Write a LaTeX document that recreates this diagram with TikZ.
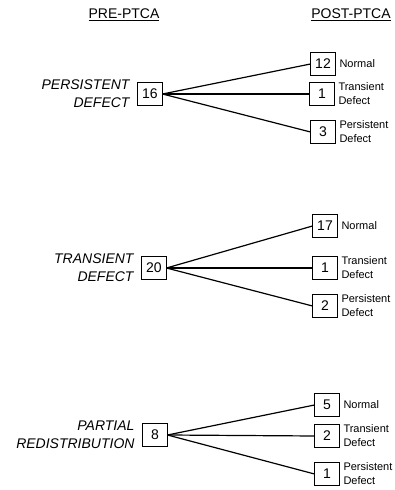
\documentclass[tikz,border=0pt]{standalone}
\usepackage{fontspec}
\setmainfont{Liberation Sans}
\usetikzlibrary{positioning}
\tikzset{x=1pt, y=1pt,
every node/.style={inner sep=0pt, outer sep=0pt},
head/.style={ % column titles
font=\fontsize{14}{17}\selectfont},
group/.style={ % italic names on the left
anchor=east, align=right,
font=\fontsize{14}{18}\selectfont\itshape},
count/.style={ % boxed numbers
draw, line width=1pt,
minimum width=25pt, minimum height=23pt,
font=\fontsize{14}{17}\selectfont},
result/.style={ % small text beside the right boxes
right=4pt of #1, align=left,
font=\fontsize{11}{14}\selectfont},
branch/.style={line width=1.2pt}}

\begin{document}
\begin{tikzpicture}
\useasboundingbox (0,0) rectangle (394,490);
% column titles
\node[head] (pre) at (124,476) {PRE-PTCA};
\node[head] (post) at (351,476) {POST-PTCA};
\draw[line width=0.9pt] ([yshift=-2pt]pre.base west) -- ([yshift=-2pt]pre.base east);
\draw[line width=0.9pt] ([yshift=-2pt]post.base west) -- ([yshift=-2pt]post.base east);

% persistent defect
\node[count] (s1) at (150,396) {16};
\node[group, left=8pt of s1] {PERSISTENT\\DEFECT};
\node[count] (n1) at (323,426) {12};
\node[count] (t1) at (322,396) {1};
\node[count] (p1) at (323,358) {3};
\node[result=n1] {Normal};
\node[result=t1] {Transient\\Defect};
\node[result=p1] {Persistent\\Defect};
\draw[branch] (s1.east) -- (n1.west);
\draw[branch] (s1.east) -- (t1.west);
\draw[branch] (s1.east) -- (p1.west);

% transient defect
\node[count] (s2) at (154,222) {20};
\node[group, left=8pt of s2] {TRANSIENT\\DEFECT};
\node[count] (n2) at (325,264) {17};
\node[count] (t2) at (325,222) {1};
\node[count] (p2) at (325,184) {2};
\node[result=n2] {Normal};
\node[result=t2] {Transient\\Defect};
\node[result=p2] {Persistent\\Defect};
\draw[branch] (s2.east) -- (n2.west);
\draw[branch] (s2.east) -- (t2.west);
\draw[branch] (s2.east) -- (p2.west);

% partial redistribution
\node[count] (s3) at (155,55) {8};
\node[group, left=8pt of s3] {PARTIAL\\REDISTRIBUTION};
\node[count] (n3) at (327,85) {5};
\node[count] (t3) at (327,54) {2};
\node[count] (p3) at (327,16) {1};
\node[result=n3] {Normal};
\node[result=t3] {Transient\\Defect};
\node[result=p3] {Persistent\\Defect};
\draw[branch] (s3.east) -- (n3.west);
\draw[branch] (s3.east) -- (t3.west);
\draw[branch] (s3.east) -- (p3.west);
\end{tikzpicture}
\end{document}
